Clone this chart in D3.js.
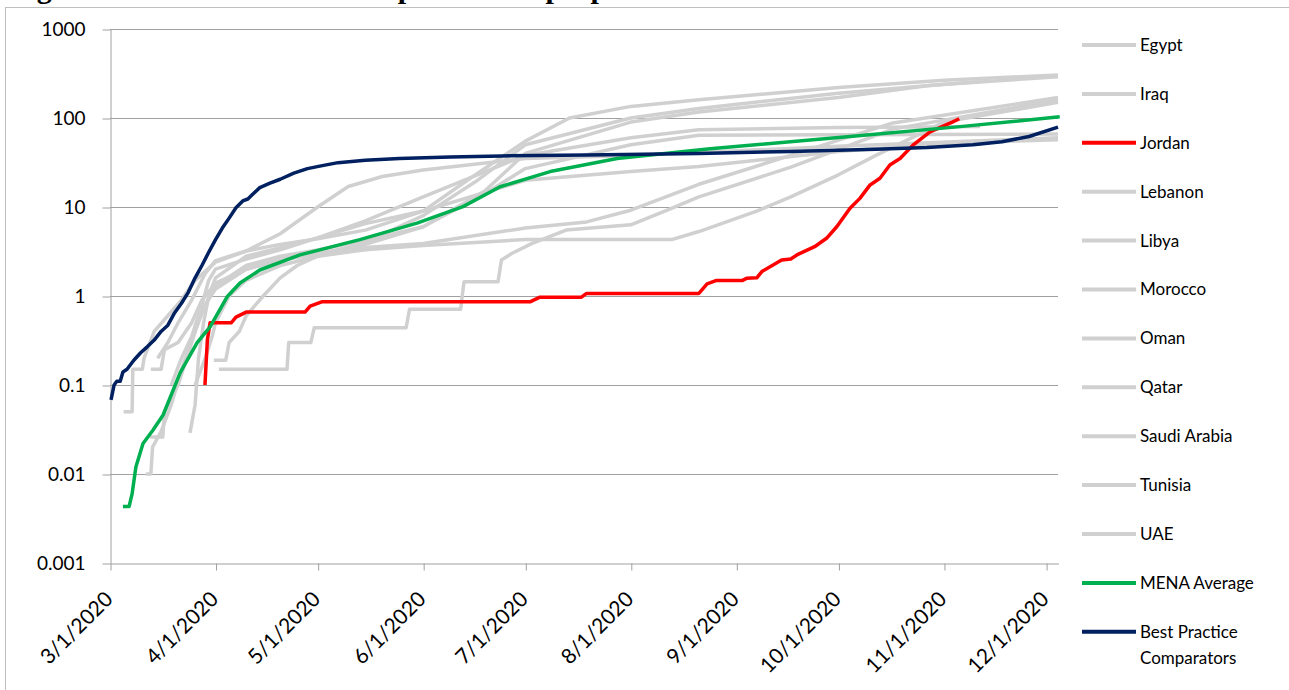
<!DOCTYPE html>
<html>
<head>
<meta charset="utf-8">
<script src="https://cdn.jsdelivr.net/npm/d3@7"></script>
<style>
  html, body { margin: 0; padding: 0; background: #fff; }
  svg { display: block; }
</style>
</head>
<body>
<svg id="chart" width="1289" height="690"></svg>
<script>
// ---------------- data (day = days since 3/1/2020, value per million) ----------------
const titleText = "Figure 10: Cumulative deaths per million people";
const yTickValues = [0.001, 0.01, 0.1, 1, 10, 100, 1000];
const yTickLabels = ["0.001", "0.01", "0.1", "1", "10", "100", "1000"];
const xTickDates = ["2020-03-01","2020-04-01","2020-05-01","2020-06-01","2020-07-01","2020-08-01","2020-09-01","2020-10-01","2020-11-01","2020-12-01"];
const xTickLabels = ["3/1/2020","4/1/2020","5/1/2020","6/1/2020","7/1/2020","8/1/2020","9/1/2020","10/1/2020","11/1/2020","12/1/2020"];
const seriesNames = ["Egypt","Iraq","Jordan","Lebanon","Libya","Morocco","Oman","Qatar","Saudi Arabia","Tunisia","UAE","MENA Average","Best Practice Comparators"];

const egypt = [[10.5,0.01],[12,0.01],[12.5,0.02],[15,0.03],[18,0.06],[21,0.15],[25,0.4],[28,0.8],[31,1.3],[40,2.2],[50,2.8],[61,3.3],[75,4.2],[92,6],[110,14],[122,27],[153,50],[173,64],[214,65],[278.5,66]];
const iraq = [[4,0.05],[6.5,0.05],[6.7,0.15],[9.5,0.15],[10,0.2],[13,0.4],[17,0.6],[21,0.9],[25,1.5],[31,2.4],[40,3.2],[50,3.8],[61,4.4],[75,5.5],[92,9],[105,20],[122,55],[135,100],[153,135],[173,160],[214,220],[245,265],[278.5,305]];
const jordan = [[27.9,0.1],[28.6,0.32],[29.4,0.5],[35.6,0.5],[37,0.58],[40,0.66],[57.3,0.66],[58.8,0.77],[62.2,0.86],[123.4,0.86],[126.3,0.97],[138.5,0.97],[140,1.07],[173,1.07],[175.4,1.37],[178,1.49],[185.7,1.49],[187,1.58],[190,1.6],[191.5,1.88],[197.3,2.54],[200,2.6],[202.1,2.94],[207,3.58],[210.5,4.45],[213.5,6.0],[217.4,9.7],[220.3,12.5],[223.3,17.7],[226.2,21],[229.1,29.6],[232.1,35],[235.9,49.6],[240.9,70],[247.6,90.5],[249.5,98]];
const lebanon = [[25,0.1],[28,0.2],[30,0.35],[31,0.5],[35,1.0],[40,1.5],[50,2.2],[61,2.8],[75,3.3],[92,3.7],[122,4.3],[165,4.3],[173,5.3],[190,9],[200,13],[214,23],[225,38],[245,90],[278.5,150]];
const libya = [[32,0.15],[52,0.15],[52.5,0.3],[59,0.3],[60,0.44],[87,0.44],[88,0.71],[103,0.71],[104,1.45],[114,1.45],[115,2.54],[118,3.0],[124,3.9],[134,5.5],[153,6.3],[163,9],[173,13],[200,28],[230,75],[278.5,160]];
const morocco = [[11.8,0.026],[15.5,0.026],[16,0.05],[20,0.1],[24,0.3],[27,0.7],[31,1.2],[40,2.0],[50,2.5],[61,3.0],[75,3.8],[92,6],[110,15],[122,40],[153,90],[173,117],[214,170],[240,230],[255.6,255]];
const oman = [[30.5,0.19],[34,0.19],[35,0.3],[38,0.4],[40,0.6],[45,1.0],[50,1.6],[55,2.2],[61,2.8],[75,4],[92,8],[108,20],[122,50],[153,100],[173,128],[214,190],[245,240],[278.5,290]];
const qatar = [[14,0.2],[17,0.3],[20,0.5],[24,0.9],[28,1.8],[31,2.5],[40,3.2],[50,5],[61,10],[70,17],[80,22],[92,26],[122,35],[153,38],[173,41],[214,48],[278.5,60]];
const saudiArabia = [[23.5,0.029],[25,0.06],[26,0.2],[27.5,0.5],[29,1.0],[31,1.6],[40,2.8],[50,3.5],[61,4.5],[75,7],[92,13],[122,38],[153,60],[173,73.6],[214,78],[255.6,80]];
const tunisia = [[12,0.15],[15,0.15],[16,0.25],[20,0.3],[24,0.5],[27,0.9],[31,1.4],[40,2.0],[50,2.6],[61,3.0],[75,3.5],[92,3.9],[122,5.8],[140,6.8],[153,9.2],[173,18],[200,38],[230,88],[278.5,170]];
const uae = [[18,0.1],[21,0.2],[24,0.35],[27,0.8],[29,1.5],[31,2.0],[40,2.6],[50,3.3],[61,4.5],[75,6.5],[92,9],[122,20],[153,25],[173,28.5],[214,42],[245,52],[278.5,57]];
const menaAverage = [[3.8,0.0043],[5.6,0.0043],[6.5,0.006],[7.6,0.012],[9.7,0.022],[12.6,0.031],[15.6,0.046],[20.6,0.137],[25.6,0.30],[29.4,0.45],[34.4,0.98],[38.2,1.4],[44,1.96],[55.8,2.9],[73.4,4.3],[90.2,6.6],[103.7,10.1],[114.6,16.9],[129.3,25],[149,35],[176.3,45],[217.4,62],[249.7,80],[279,103]];
const bestPractice = [[0.3,0.068],[1.2,0.1],[2,0.11],[3,0.11],[3.8,0.14],[5,0.15],[7,0.19],[9,0.23],[11,0.27],[13,0.32],[15,0.4],[17,0.47],[19,0.65],[21,0.83],[23,1.1],[25,1.6],[27,2.2],[29,3.1],[31,4.3],[33,5.8],[35,7.5],[37,9.8],[39,11.7],[40.5,12.3],[42,14],[44,16.5],[47,18.5],[50,20.5],[54,24],[58,27],[62,29],[67,31.5],[75,33.5],[85,35],[100,36.5],[115,37.5],[140,38.5],[173,40],[200,42],[225,44.5],[240,46.5],[253.5,50],[262,54],[270,62],[278.5,79]];

const seriesData = [egypt, iraq, jordan, lebanon, libya, morocco, oman, qatar, saudiArabia, tunisia, uae, menaAverage, bestPractice];
const GRAY = "#d0d0d0", RED = "#ff0000", GREEN = "#00b050", NAVY = "#002060";
const seriesColors = [GRAY, GRAY, RED, GRAY, GRAY, GRAY, GRAY, GRAY, GRAY, GRAY, GRAY, GREEN, NAVY];

// ---------------- chart ----------------
const svg = d3.select("#chart");
const FONT = "Lato, 'Open Sans', sans-serif";
const base = Date.UTC(2020, 2, 1);
const toDate = d => new Date(base + d * 864e5);

const x = d3.scaleUtc()
  .domain([new Date(base), new Date(Date.UTC(2020, 11, 4, 12))])
  .range([110, 1058]);
const y = d3.scaleLog().domain([0.001, 1000]).range([563, 29]);

// title (mostly cut off at top, as in the reference)
svg.append("text")
  .attr("x", 10).attr("y", -2)
  .attr("font-family", "'Liberation Serif', serif")
  .attr("font-weight", "bold")
  .attr("font-size", 30)
  .text(titleText);

// outer chart border
svg.append("rect")
  .attr("x", 5.5).attr("y", 7.5).attr("width", 1300).attr("height", 700)
  .attr("fill", "none").attr("stroke", "#bfbfbf").attr("stroke-width", 1);

// gridlines
svg.append("g").selectAll("line").data(yTickValues.slice(1)).join("line")
  .attr("x1", x.range()[0]).attr("x2", x.range()[1])
  .attr("y1", d => Math.round(y(d)) + 0.5).attr("y2", d => Math.round(y(d)) + 0.5)
  .attr("stroke", "#a0a0a0").attr("stroke-width", 1);

// y axis
const yAxis = svg.append("g")
  .attr("transform", `translate(${x.range()[0] + 0.5},0.5)`)
  .call(d3.axisLeft(y).tickValues(yTickValues).tickSize(8).tickSizeOuter(0)
    .tickFormat((d, i) => yTickLabels[i]));
yAxis.select(".domain").attr("stroke", "#a0a0a0");
yAxis.selectAll(".tick line").attr("stroke", "#a0a0a0");
yAxis.selectAll(".tick text")
  .attr("font-family", FONT).attr("font-size", 19).attr("fill", "#000")
  .attr("x", -25);

// x axis
const xTicks = xTickDates.map(s => new Date(s + "T00:00:00Z"));
const xAxis = svg.append("g")
  .attr("transform", `translate(0.5,${y.range()[0] + 0.5})`)
  .call(d3.axisBottom(x).tickValues(xTicks).tickSize(7).tickSizeOuter(0)
    .tickFormat((d, i) => xTickLabels[i]));
xAxis.select(".domain").attr("stroke", "#a0a0a0");
xAxis.selectAll(".tick line").attr("stroke", "#a0a0a0");
xAxis.selectAll(".tick text")
  .attr("font-family", FONT).attr("font-size", 21).attr("fill", "#000")
  .attr("text-anchor", "end")
  .attr("dy", null).attr("y", 0)
  .attr("transform", "translate(3,37) rotate(-45)");

// lines
const line = d3.line()
  .x(d => x(toDate(d[0])))
  .y(d => y(d[1]));

const order = [0,1,3,4,5,6,7,8,9,10,2,11,12];
svg.append("g").selectAll("path").data(order).join("path")
  .attr("d", i => line(seriesData[i]))
  .attr("fill", "none")
  .attr("stroke", i => seriesColors[i])
  .attr("stroke-width", 3.5)
  .attr("stroke-linejoin", "round")
  .attr("stroke-linecap", "butt");

// legend
const leg = svg.append("g");
seriesNames.forEach((name, i) => {
  const cy = 45 + i * 48.9;
  leg.append("line")
    .attr("x1", 1082).attr("x2", 1136).attr("y1", cy).attr("y2", cy)
    .attr("stroke", seriesColors[i]).attr("stroke-width", 4);
  const t = leg.append("text")
    .attr("x", 1140).attr("y", cy)
    .attr("dy", "0.35em")
    .attr("font-family", FONT).attr("font-size", 17).attr("fill", "#000");
  if (name === "Best Practice Comparators") {
    t.append("tspan").attr("x", 1140).text("Best Practice");
    t.append("tspan").attr("x", 1140).attr("dy", "1.55em").text("Comparators");
  } else {
    t.text(name);
  }
});
</script>
</body>
</html>
